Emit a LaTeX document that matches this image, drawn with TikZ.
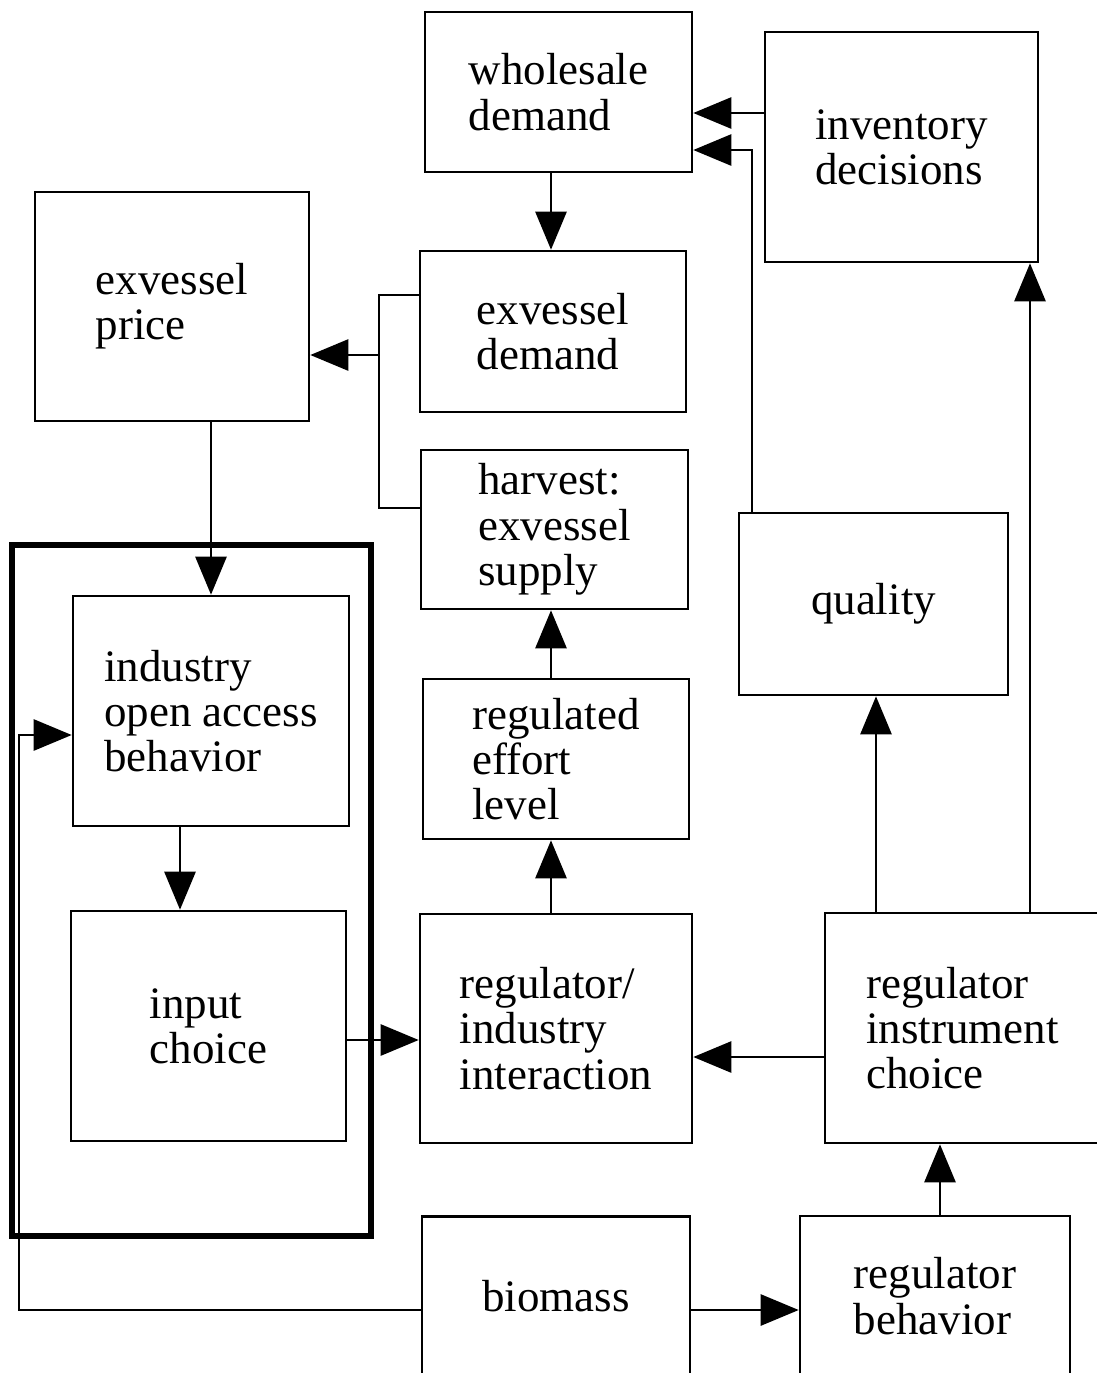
\documentclass[tikz,border=0pt]{standalone}
\usepackage{fontspec}
\setmainfont{Liberation Serif}
\usetikzlibrary{arrows.meta,positioning}

\begin{document}
\begin{tikzpicture}[x=0.02cm,y=-0.02cm,
  box/.style={draw,line width=1.5pt,rectangle,align=left,inner sep=0pt,
    font=\fontsize{25.6}{25.8}\selectfont},
  conn/.style={line width=1.5pt,-{Triangle[length=0.76cm,width=0.62cm]}},
  link/.style={line width=1.5pt}]
\useasboundingbox (0,0) rectangle (1097,1373);
\clip (0,0) rectangle (1097,1373);
% market side
\node[box,minimum width=5.34cm,minimum height=3.2cm] (wholesale) at (558.5,92) {wholesale\\demand};
\node[box,minimum width=5.46cm,minimum height=4.6cm] (inventory) at (901.5,147) {inventory\\decisions};
\node[box,minimum width=5.48cm,minimum height=4.58cm] (price) at (172,306.5) {exvessel\\price};
\node[box,minimum width=5.32cm,minimum height=3.22cm] (exdemand) at (553,331.5) {exvessel\\demand};
\node[box,minimum width=5.34cm,minimum height=3.18cm] (harvest) at (554.5,529.5) {harvest:\\exvessel\\supply};
\node[box,minimum width=5.38cm,minimum height=3.64cm] (quality) at (873.5,604) {quality};
% industry
\draw[line width=3.4pt] (12,545) rectangle (371,1236);
\node[box,minimum width=5.52cm,minimum height=4.6cm] (industry) at (211,711) {industry\\open access\\behavior};
\node[box,minimum width=5.5cm,minimum height=4.6cm] (input) at (208.5,1026) {input\\choice};
% regulator
\node[box,minimum width=5.32cm,minimum height=3.2cm] (effort) at (556,759) {regulated\\effort\\level};
\node[box,minimum width=5.44cm,minimum height=4.58cm] (interaction) at (556,1028.5) {regulator/\\industry\\interaction};
\node[box,minimum width=5.5cm,minimum height=4.6cm] (instrument) at (962.5,1028) {regulator\\instrument\\choice};
\node[box,minimum width=5.36cm,minimum height=3.18cm] (biomass) at (556,1296) {biomass};
\node[box,minimum width=5.4cm,minimum height=3.2cm] (behavior) at (935,1296) {regulator\\behavior};
% connectors
\draw[conn] (inventory.west |- 0,113) -- (wholesale.east |- 0,113);
\draw[conn] (quality.north -| 752,0) |- (wholesale.east |- 0,150);
\draw[conn] (wholesale.south -| 551,0) -- (exdemand.north -| 551,0);
\coordinate (join) at (379,355);
\draw[link] (exdemand.west |- 0,295) -| (join) |- (harvest.west |- 0,508);
\draw[conn] (join) -- (price.east |- join);
\draw[conn] (price.south -| industry.north) -- (industry.north);
\draw[conn] (industry.south -| 180,0) -- (input.north -| 180,0);
\draw[conn] (input.east |- 0,1040) -- (interaction.west |- 0,1040);
\draw[conn] (effort.north -| 551,0) -- (harvest.south -| 551,0);
\draw[conn] (interaction.north -| 551,0) -- (effort.south -| 551,0);
\draw[conn] (instrument.west |- 0,1057) -- (interaction.east |- 0,1057);
\draw[conn] (instrument.north -| 876,0) -- (quality.south -| 876,0);
\draw[conn] (instrument.north -| 1030,0) -- (inventory.south -| 1030,0);
\draw[conn] (behavior.north -| 940,0) -- (instrument.south -| 940,0);
\draw[conn] (biomass.east |- 0,1310) -- (behavior.west |- 0,1310);
\coordinate (bend) at (19,735);
\draw[conn] (biomass.west |- 0,1310) -| (bend) -- (industry.west |- bend);
\end{tikzpicture}
\end{document}
